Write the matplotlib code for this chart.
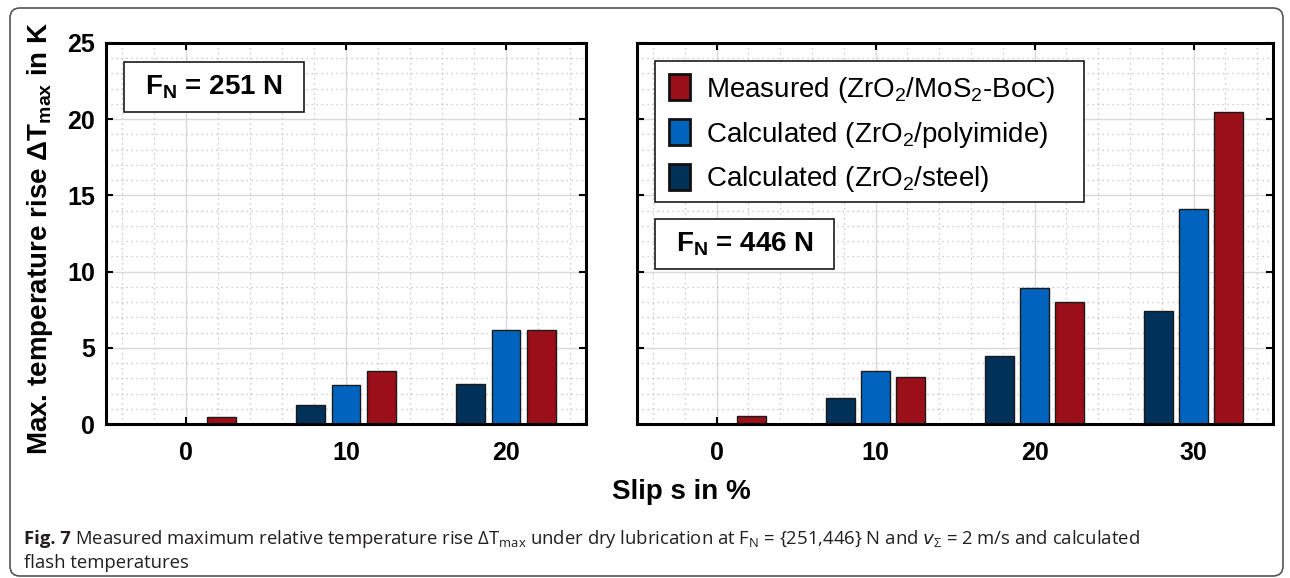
import numpy as np
import matplotlib
matplotlib.use('Agg')
import matplotlib.pyplot as plt
from matplotlib.patches import FancyBboxPatch, Patch, Rectangle
from matplotlib.ticker import MultipleLocator
from matplotlib.transforms import IdentityTransform

plt.rcParams['font.family'] = ['Liberation Sans', 'DejaVu Sans']
plt.rcParams['mathtext.default'] = 'regular'

# Daten
slip_251 = [0, 10, 20]
steel_251 = [0.0, 1.23, 2.63]
polyimide_251 = [0.0, 2.54, 6.2]
measured_251 = [0.48, 3.5, 6.2]

slip_446 = [0, 10, 20, 30]
steel_446 = [0.0, 1.68, 4.49, 7.44]
polyimide_446 = [0.0, 3.46, 8.93, 14.1]
measured_446 = [0.5, 3.1, 8.0, 20.5]

labels = ['Measured (ZrO$_2$/MoS$_2$-BoC)',
          'Calculated (ZrO$_2$/polyimide)',
          'Calculated (ZrO$_2$/steel)']

c_meas = '#9a0f19'
c_poly = '#0064be'
c_steel = '#003159'

W, H = 1290, 578
fig = plt.figure(figsize=(W / 100, H / 100), dpi=100)

def px(x0, y0, x1, y1):
    return [x0 / W, 1 - y1 / H, (x1 - x0) / W, (y1 - y0) / H]

ax1 = fig.add_axes(px(106, 43, 586, 424))
ax2 = fig.add_axes(px(637, 43, 1273, 424))

def draw(ax, slip, steel, poly, meas, xmax):
    x = np.array(slip, dtype=float)
    kw = dict(width=1.8, edgecolor='#1a1a1a', linewidth=1.0, zorder=3)
    ax.bar(x - 2.2, steel, color=c_steel, **kw)
    ax.bar(x, poly, color=c_poly, **kw)
    ax.bar(x + 2.2, meas, color=c_meas, **kw)
    ax.set_xlim(-5, xmax)
    ax.set_ylim(0, 25)
    ax.set_xticks(slip)
    ax.set_yticks([0, 5, 10, 15, 20, 25])
    ax.xaxis.set_minor_locator(MultipleLocator(2))
    ax.yaxis.set_minor_locator(MultipleLocator(1))
    ax.grid(True, which='major', color='#d9d9d9', linewidth=1.0, zorder=0)
    ax.grid(True, which='minor', color='#bdbdbd', linestyle=(0, (1, 3)), linewidth=0.9, zorder=0)
    ax.set_axisbelow(True)
    ax.tick_params(which='major', direction='in', length=5, width=1.5,
                   top=True, right=True, labelsize=18, pad=12)
    ax.tick_params(which='minor', length=0)
    for lbl in ax.get_xticklabels() + ax.get_yticklabels():
        lbl.set_fontweight('bold')
    for s in ax.spines.values():
        s.set_linewidth(2.2)
        s.set_zorder(5)

draw(ax1, slip_251, steel_251, polyimide_251, measured_251, 25)
draw(ax2, slip_446, steel_446, polyimide_446, measured_446, 35)
ax1.tick_params(axis='y', pad=8)
ax2.set_yticklabels([])

def frame_box(ax, x0, x1, y0, y1):
    ax.add_patch(Rectangle((x0, y0), x1 - x0, y1 - y0, transform=ax.transAxes,
                           facecolor='white', edgecolor='#1a1a1a', linewidth=1.2, zorder=6))

frame_box(ax1, 0.038, 0.413, 0.819, 0.950)
ax1.text(0.2255, 0.8845, 'F$_N$ = 251 N', transform=ax1.transAxes, ha='center', va='center',
         fontsize=20, fontweight='bold', zorder=7)
frame_box(ax2, 0.028, 0.310, 0.406, 0.538)
ax2.text(0.169, 0.472, 'F$_N$ = 446 N', transform=ax2.transAxes, ha='center', va='center',
         fontsize=20, fontweight='bold', zorder=7)

# Legende mit eigenem Rahmen
frame_box(ax2, 0.028, 0.703, 0.582, 0.954)
handles = [Patch(facecolor=c, edgecolor='#111111', linewidth=2) for c in (c_meas, c_poly, c_steel)]
leg = ax2.legend(handles, labels, loc='upper left', bbox_to_anchor=(0.028, 0.954),
                 fontsize=20, frameon=False,
                 handlelength=0.75, handleheight=1.05, handletextpad=0.6,
                 labelspacing=0.52, borderpad=0.5, borderaxespad=0)
leg.set_zorder(8)

fig.text(40 / W, 1 - 238 / H, 'Max. temperature rise $\\Delta$T$_{max}$ in K', rotation=90,
         ha='center', va='center', fontsize=20, fontweight='bold')
fig.text(681 / W, 1 - 492 / H, 'Slip s in %', ha='center', va='center',
         fontsize=20, fontweight='bold')

# Rahmen und Bildunterschrift
frame = FancyBboxPatch((10, 2), 1273, 568, boxstyle='round,pad=0,rounding_size=10',
                       transform=IdentityTransform(), facecolor='none',
                       edgecolor='#555555', linewidth=1.2)
fig.patches.append(frame)

cap_font = ['Open Sans', 'DejaVu Sans']
cap = ('Measured maximum relative temperature rise $\\Delta$T$_{max}$ under dry lubrication at '
       'F$_N$ = {251,446} N and $\\mathit{v}_{\\Sigma}$ = 2 m/s and calculated')
t = fig.text(24 / W, 1 - 539 / H, 'Fig. 7', ha='left', va='center', fontsize=13.3,
             fontweight='bold', family=cap_font, color='#231f20')
fig.canvas.draw()
bb = t.get_window_extent()
fig.text((bb.x1 + 4) / W, 1 - 539 / H, cap, ha='left', va='center', fontsize=13.3,
         family=cap_font, color='#231f20')
fig.text(24 / W, 1 - 563 / H, 'flash temperatures', ha='left', va='center', fontsize=13.3,
         family=cap_font, color='#231f20')

fig.savefig('out.png', dpi=100)
